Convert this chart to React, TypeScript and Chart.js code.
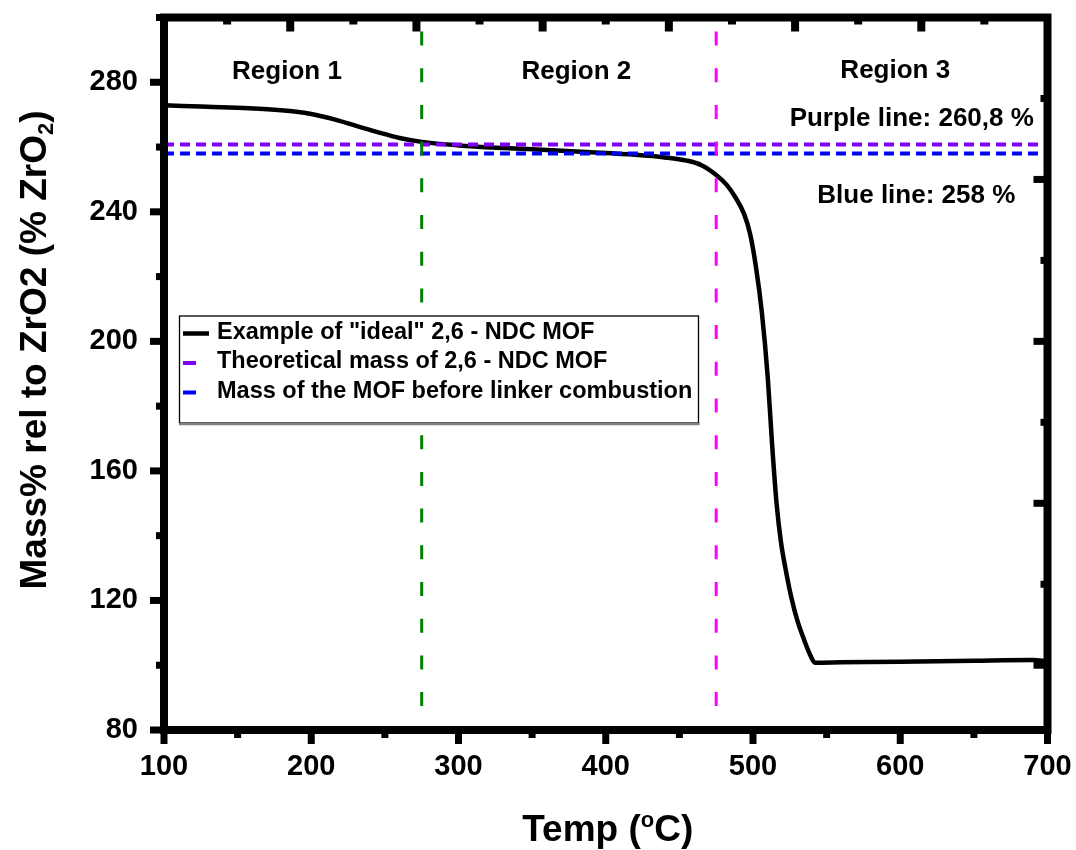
import React, { useEffect, useRef } from 'react';
import { Chart, registerables } from 'chart.js';

Chart.register(...registerables);

const FONT = '"Liberation Sans", Arial, Helvetica, sans-serif';

// ---- data ----
const tempC = [100, 125, 150, 175, 190, 200, 215, 230, 245, 260, 275, 300, 330, 360, 390, 420, 440, 455, 465, 475, 482, 488, 494, 498, 502, 506, 510, 513, 516, 519, 522, 526, 530, 535, 539, 542, 560, 600, 650, 690, 700];
const massPct = [272.9, 272.5, 272.1, 271.5, 270.9, 270.2, 268.6, 266.6, 264.6, 262.8, 261.6, 260.5, 259.7, 259.1, 258.4, 257.6, 256.8, 255.8, 254.4, 251.4, 248.4, 244.5, 239.3, 233.2, 223, 209, 189, 168, 150, 138, 130, 121, 114, 107.5, 103, 100.8, 100.9, 101.1, 101.4, 101.6, 101.2];

const purpleLevel = 260.8;
const blueLevel = 258;
const regionBoundaries = [275, 475];
const boundaryColors = ['#008000', '#FF00FF'];

const xRange = [100, 700];
const yRange = [80, 300];
const xTickStep = 50;
const xLabelStep = 100;
const yTickStep = 20;
const yLabelStep = 40;

// mirror-axis tick divisions (top and right axes)
const topTickRange = [0, 7];
const rightTickRange = [0, 4.4];
const mirrorTickStep = 0.5;

const legendLabels = [
  'Example of "ideal" 2,6 - NDC MOF',
  'Theoretical mass of 2,6 - NDC MOF',
  'Mass of the MOF before linker combustion',
];

const noteTexts = ['Region 1', 'Region 2', 'Region 3', 'Purple line: 260,8 %', 'Blue line: 258 %'];
const noteX = [183.5, 380, 596.6, 607.8, 610.9];
const noteY = [283.2, 283.2, 283.6, 268.6, 244.9];

const xTitleParts = [
  { text: 'Temp (', sub: 0 },
  { text: 'o', sub: -1 },
  { text: 'C)', sub: 0 },
];
const yTitleParts = [
  { text: 'Mass% rel to ZrO2 (% ZrO', sub: 0 },
  { text: '2', sub: 1 },
  { text: ')', sub: 0 },
];

function drawRich(ctx: CanvasRenderingContext2D, parts: { text: string; sub: number }[], cx: number, baseY: number, size: number) {
  const small = Math.round(size * 0.6);
  const widths = parts.map((p) => {
    ctx.font = `bold ${p.sub ? small : size}px ${FONT}`;
    return ctx.measureText(p.text).width;
  });
  const total = widths.reduce((a, b) => a + b, 0);
  let x = cx - total / 2;
  ctx.textAlign = 'left';
  ctx.textBaseline = 'alphabetic';
  parts.forEach((p, i) => {
    ctx.font = `bold ${p.sub ? small : size}px ${FONT}`;
    const dy = p.sub === -1 ? -size * 0.39 : p.sub === 1 ? size * 0.2 : 0;
    ctx.fillText(p.text, x, baseY + dy);
    x += widths[i];
  });
}

function mirrorValues(range: number[]) {
  const vals: number[] = [];
  for (let v = range[0]; v <= range[1] + 1e-9; v += mirrorTickStep) vals.push(Math.round(v * 1000) / 1000);
  return vals;
}

const framePlugin = {
  id: 'framePlugin',
  afterDatasetsDraw(chart: any) {
    const { ctx, chartArea: ca, scales } = chart;
    const xs = scales.x;
    const ys = scales.y;
    const xt = scales.xTop;
    const yr = scales.yRight;
    ctx.save();

    // annotations
    ctx.fillStyle = '#000';
    ctx.font = `bold 26px ${FONT}`;
    ctx.textAlign = 'center';
    ctx.textBaseline = 'middle';
    noteTexts.forEach((t, i) => {
      ctx.fillText(t, xs.getPixelForValue(noteX[i]), ys.getPixelForValue(noteY[i]));
    });

    // legend
    const items = chart.data.datasets.filter((d: any) => d.label);
    const lx = ca.left + 15;
    const ly = ca.top + 298;
    const lw = 519;
    const lh = 107;
    ctx.fillStyle = '#fff';
    ctx.fillRect(lx, ly, lw, lh);
    ctx.strokeStyle = '#000';
    ctx.lineWidth = 1.3;
    ctx.strokeRect(lx + 0.5, ly + 0.5, lw, lh);
    ctx.strokeStyle = '#808080';
    ctx.lineWidth = 2.5;
    ctx.beginPath();
    ctx.moveTo(lx, ly + lh + 1.5);
    ctx.lineTo(lx + lw + 1.5, ly + lh + 1.5);
    ctx.stroke();
    ctx.font = `bold 23.5px ${FONT}`;
    ctx.textAlign = 'left';
    ctx.textBaseline = 'middle';
    items.forEach((ds: any, i: number) => {
      const cy = ly + 17 + i * 29.5;
      const len = ds.borderDash && ds.borderDash.length ? ds.borderDash[0] + 3 : 26;
      ctx.strokeStyle = ds.borderColor;
      ctx.lineWidth = Math.min(ds.borderWidth, 5);
      ctx.setLineDash([]);
      ctx.beginPath();
      ctx.moveTo(lx + 4, cy + 1);
      ctx.lineTo(lx + 4 + len, cy + 1);
      ctx.stroke();
      ctx.fillStyle = '#000';
      ctx.fillText(ds.label, lx + 38, cy);
    });

    // frame
    ctx.strokeStyle = '#000';
    ctx.lineWidth = 8;
    ctx.lineJoin = 'miter';
    ctx.strokeRect(ca.left, ca.top, ca.right - ca.left, ca.bottom - ca.top);
    const half = 4;
    ctx.fillStyle = '#000';

    // bottom ticks (outward)
    xs.ticks.forEach((t: any) => {
      const px = xs.getPixelForValue(t.value);
      const major = t.value % xLabelStep === 0;
      const len = major ? 10 : 4;
      ctx.fillRect(px - 3.5, ca.bottom + half - 1, 7, len + 1);
    });
    // left ticks (outward)
    ys.ticks.forEach((t: any) => {
      const py = ys.getPixelForValue(t.value);
      const major = t.value % yLabelStep === 0;
      const len = major ? 10 : 4;
      ctx.fillRect(ca.left - half - len, py - 3.5, len + 1, 7);
    });
    // top ticks (inward)
    mirrorValues(topTickRange).forEach((v) => {
      const px = xt.getPixelForValue(v);
      if (px < ca.left + 3 || px > ca.right - 3) return;
      const major = Math.abs(v - Math.round(v)) < 1e-6;
      const len = major ? 10 : 3;
      ctx.fillRect(px - 4, ca.top + half - 1, 8, len + 1);
    });
    // right ticks (inward)
    mirrorValues(rightTickRange).forEach((v) => {
      const py = yr.getPixelForValue(v);
      if (py < ca.top + 3 || py > ca.bottom - 3) return;
      const major = Math.abs(v - Math.round(v)) < 1e-6;
      const len = major ? 10 : 3;
      ctx.fillRect(ca.right - half - len, py - 3.5, len + 1, 7);
    });

    // axis titles
    ctx.fillStyle = '#000';
    drawRich(ctx, xTitleParts, (ca.left + ca.right) / 2 + 2, 841, 37);
    ctx.save();
    ctx.translate(33, 350);
    ctx.rotate(-Math.PI / 2);
    drawRich(ctx, yTitleParts, 0, 13, 37);
    ctx.restore();

    ctx.restore();
  },
};

export default function App() {
  const ref = useRef<HTMLCanvasElement>(null);
  useEffect(() => {
    document.body.style.margin = '0';
    document.body.style.overflow = 'hidden';
    const datasets: any[] = [
      {
        label: legendLabels[0],
        data: tempC.map((x, i) => ({ x, y: massPct[i] })),
        borderColor: '#000000',
        borderWidth: 4.5,
        pointRadius: 0,
        showLine: true,
        cubicInterpolationMode: 'monotone',
        order: 5,
      },
      {
        label: legendLabels[1],
        data: [{ x: xRange[0], y: purpleLevel }, { x: xRange[1], y: purpleLevel }],
        borderColor: '#8000FF',
        borderWidth: 4,
        borderDash: [10, 6],
        pointRadius: 0,
        showLine: true,
        order: 4,
      },
      {
        label: legendLabels[2],
        data: [{ x: xRange[0], y: blueLevel }, { x: xRange[1], y: blueLevel }],
        borderColor: '#0000FF',
        borderWidth: 4,
        borderDash: [10, 6],
        pointRadius: 0,
        showLine: true,
        order: 3,
      },
      ...regionBoundaries.map((b, i) => ({
        label: '',
        data: [{ x: b, y: yRange[1] }, { x: b, y: yRange[0] }],
        borderColor: boundaryColors[i],
        borderWidth: 3,
        borderDash: [14, 22.7],
        borderDashOffset: 22.7,
        pointRadius: 0,
        showLine: true,
        order: 2 - i,
      })),
    ];
    const tickFont = { family: FONT, size: 29, weight: 'bold' as const };
    const chart = new Chart(ref.current as HTMLCanvasElement, {
      type: 'scatter',
      data: { datasets },
      options: {
        animation: false,
        responsive: false,
        layout: { padding: { top: 17.5, right: 28.5, left: 0, bottom: 0 } },
        plugins: { legend: { display: false }, tooltip: { enabled: false } },
        scales: {
          x: {
            type: 'linear',
            position: 'bottom',
            min: xRange[0],
            max: xRange[1],
            afterFit: (s: any) => {
              s.height = 120;
              s.paddingLeft = 0;
              s.paddingRight = 0;
              s.paddingTop = 0;
              s.paddingBottom = 0;
            },
            grid: { display: false, drawTicks: false },
            border: { display: false },
            ticks: {
              stepSize: xTickStep,
              autoSkip: false,
              maxRotation: 0,
              padding: 20,
              color: '#000',
              font: tickFont,
              callback: (v: any) => (v % xLabelStep === 0 ? String(v) : ''),
            },
          },
          y: {
            type: 'linear',
            position: 'left',
            min: yRange[0],
            max: yRange[1],
            afterFit: (s: any) => {
              s.width = 164;
              s.paddingLeft = 0;
              s.paddingRight = 0;
              s.paddingTop = 0;
              s.paddingBottom = 0;
            },
            grid: { display: false, drawTicks: false },
            border: { display: false },
            ticks: {
              stepSize: yTickStep,
              autoSkip: false,
              padding: 26,
              color: '#000',
              font: tickFont,
              callback: (v: any) => (v % yLabelStep === 0 ? String(v) : ''),
            },
          },
          xTop: {
            type: 'linear',
            position: 'top',
            display: false,
            min: topTickRange[0],
            max: topTickRange[1],
            ticks: { stepSize: mirrorTickStep },
          },
          yRight: {
            type: 'linear',
            position: 'right',
            display: false,
            reverse: true,
            min: rightTickRange[0],
            max: rightTickRange[1],
            ticks: { stepSize: mirrorTickStep },
          },
        },
      } as any,
      plugins: [framePlugin],
    });
    return () => chart.destroy();
  }, []);
  return (
    <canvas
      ref={ref}
      width={1076}
      height={850}
      style={{ display: 'block', width: '1076px', height: '850px' }}
    />
  );
}
